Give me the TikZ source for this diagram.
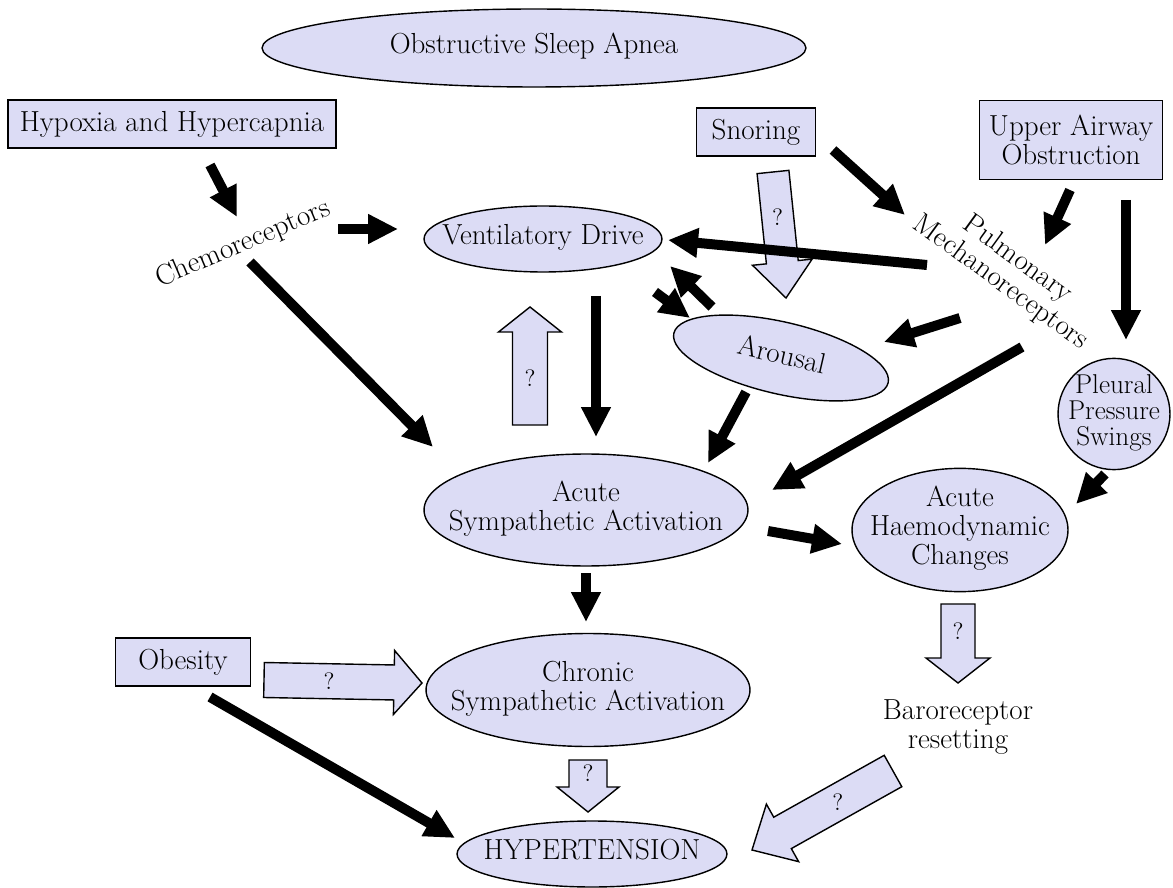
\documentclass[tikz,border=0pt]{standalone}
\usepackage{tikz}
\usetikzlibrary{calc,arrows.meta,shapes.geometric}
\definecolor{lav}{RGB}{220,220,245}
\def\fatarrow(#1)(#2)(#3:#4:#5)#6{%
	\coordinate (#6h) at ($(#2)!#5!(#1)$);
	\draw[fat] ($(#1)!#3!90:(#2)$) -- ($(#6h)!#3!90:(#2)$) -- ($(#6h)!#4!90:(#2)$) -- (#2)
		-- ($(#6h)!#4!-90:(#2)$) -- ($(#6h)!#3!-90:(#2)$) -- ($(#1)!#3!-90:(#2)$) -- cycle;
	\node[qmark] (#6) at ($(#1)!0.5!(#6h)$) {?};}
% text of an oval, so that the oval keeps its own size
\newcommand{\ovaltext}[1]{\makebox[0pt]{\begin{tabular}{@{}c@{}}#1\end{tabular}}}

\begin{document}
\begin{tikzpicture}[x=0.02cm, y=-0.02cm, font=\fontsize{16.5}{16.5}\selectfont,
	box/.style={draw, fill=lav, line width=0.8pt, inner sep=0pt},
	oval/.style={ellipse, draw, fill=lav, line width=0.8pt, inner sep=0pt},
	blk/.style={line width=0.2cm, -{Triangle[length=0.6cm,width=0.56cm]}},
	fat/.style={fill=lav, draw, line width=0.8pt, line join=miter},
	qmark/.style={font=\fontsize{13.5}{13.5}\selectfont},
	plain/.style={align=center}]
		%%%%% START %%%%%
		\useasboundingbox (0,0) rectangle (1173,888);
		
		\node[oval, minimum width=10.88cm, minimum height=1.56cm] (osa) at (534,48) {\ovaltext{Obstructive Sleep Apnea}};
		\node[box, minimum width=6.56cm, minimum height=0.96cm] (hyp) at (172,124) {Hypoxia and Hypercapnia};
		\node[box, minimum width=2.38cm, minimum height=0.96cm] (snor) at (756,132) {Snoring};
		\node[box, minimum width=3.66cm, minimum height=1.58cm, align=center] (uao) at (1071,140) {Upper Airway\\Obstruction};
		
		\node[rotate=23] (chemo) at (243,244) {Chemoreceptors};
		\node[plain, rotate=-36] (pulm) at (1009,271) {Pulmonary\\Mechanoreceptors};
		
		\node[oval, minimum width=4.76cm, minimum height=1.32cm] (vd) at (543,239) {\ovaltext{Ventilatory Drive}};
		\node[oval, rotate=-13, minimum width=4.4cm, minimum height=1.44cm] (arou) at (781,358) {\ovaltext{Arousal}};
		\node[oval, minimum width=2.24cm, minimum height=2.18cm, font=\fontsize{15.5}{14}\selectfont] (pps) at (1114,414) {\ovaltext{Pleural\\Pressure\\Swings}};
		
		\node[oval, minimum width=6.48cm, minimum height=2.24cm] (asa) at (586,510) {\ovaltext{Acute\\Sympathetic Activation}};
		\node[oval, minimum width=4.32cm, minimum height=2.4cm] (ahc) at (960,530) {\ovaltext{Acute\\Haemodynamic\\Changes}};
		
		\node[box, minimum width=2.7cm, minimum height=0.96cm] (obes) at (183,662) {Obesity};
		\node[oval, minimum width=6.48cm, minimum height=2.26cm] (csa) at (588,690) {\ovaltext{Chronic\\Sympathetic Activation}};
		\node[plain] (baro) at (958,727) {Baroreceptor\\resetting};
		\node[oval, minimum width=5.4cm, minimum height=1.32cm] (hyt) at (592,854) {\ovaltext{HYPERTENSION}};
		
		% ends of the arrows
		\coordinate (snor-q) at (773,172); \coordinate (arou-q) at (786,298);
		\coordinate (asa-q) at (530,425); \coordinate (vd-q) at (530,307);
		\coordinate (obes-q) at (264,680); \coordinate (csa-q) at (422,683);
		\coordinate (csa-q2) at (588,760); \coordinate (hyt-q) at (588,812);
		\coordinate (ahc-q) at (958,604); \coordinate (baro-q) at (958,683);
		\coordinate (baro-q2) at (893,771); \coordinate (hyt-q2) at (752,850);
		
		\fatarrow(snor-q)(arou-q)(0.32cm:0.6cm:0.72cm){q1}
		\fatarrow(asa-q)(vd-q)(0.35cm:0.63cm:0.5cm){q2}
		\fatarrow(obes-q)(csa-q)(0.35cm:0.64cm:0.56cm){q3}
		\fatarrow(csa-q2)(hyt-q)(0.38cm:0.62cm:0.5cm){q4}
		\fatarrow(ahc-q)(baro-q)(0.34cm:0.64cm:0.5cm){q5}
		\fatarrow(baro-q2)(hyt-q2)(0.36cm:0.66cm:0.7cm){q6}
		
		\coordinate (hyp-chemo) at (210,165); \coordinate (chemo-in) at (237,217);
		\coordinate (chemo-vd) at (338,229); \coordinate (vd-chemo) at (398,229);
		\coordinate (snor-pulm) at (833,150); \coordinate (pulm-snor) at (905,215);
		\coordinate (uao-pulm) at (1070,190); \coordinate (pulm-uao) at (1045,245);
		\coordinate (uao-pps) at (1126,200); \coordinate (pps-uao) at (1126,340);
		\coordinate (pulm-vd) at (927,265); \coordinate (vd-pulm) at (668,240);
		\coordinate (vd-arou) at (655,292); \coordinate (arou-vd) at (690,318);
		\coordinate (arou-back) at (712,307); \coordinate (vd-back) at (670,266);
		\coordinate (pulm-arou) at (960,318); \coordinate (arou-pulm) at (884,342);
		\coordinate (pulm-asa) at (1022,347); \coordinate (asa-pulm) at (772,490);
		\coordinate (arou-asa) at (746,392); \coordinate (asa-arou) at (708,463);
		\coordinate (vd-asa) at (596,296); \coordinate (asa-vd) at (596,437);
		\coordinate (chemo-asa) at (250,262); \coordinate (asa-chemo) at (433,447);
		\coordinate (pps-ahc) at (1105,474); \coordinate (ahc-pps) at (1076,504);
		\coordinate (asa-ahc) at (768,531); \coordinate (ahc-asa) at (842,544);
		\coordinate (asa-csa) at (586,573); \coordinate (csa-asa) at (586,622);
		\coordinate (obes-hyt) at (210,697); \coordinate (hyt-obes) at (455,838);
		
		\draw[blk] (hyp-chemo) -- (chemo-in);
		\draw[blk] (chemo-vd) -- (vd-chemo);
		\draw[blk] (snor-pulm) -- (pulm-snor);
		\draw[blk] (uao-pulm) -- (pulm-uao);
		\draw[blk] (uao-pps) -- (pps-uao);
		\draw[blk] (pulm-vd) -- (vd-pulm);
		\draw[blk] (vd-arou) -- (arou-vd);
		\draw[blk] (arou-back) -- (vd-back);
		\draw[blk] (pulm-arou) -- (arou-pulm);
		\draw[blk] (pulm-asa) -- (asa-pulm);
		\draw[blk] (arou-asa) -- (asa-arou);
		\draw[blk] (vd-asa) -- (asa-vd);
		\draw[blk] (chemo-asa) -- (asa-chemo);
		\draw[blk] (pps-ahc) -- (ahc-pps);
		\draw[blk] (asa-ahc) -- (ahc-asa);
		\draw[blk] (asa-csa) -- (csa-asa);
		\draw[blk] (obes-hyt) -- (hyt-obes);
		
		%%%%% END %%%%%
\end{tikzpicture}
\end{document}
